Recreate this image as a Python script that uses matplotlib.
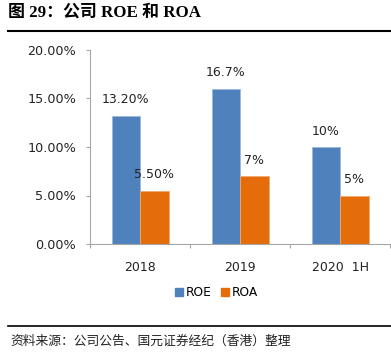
import numpy as np
import matplotlib.pyplot as plt
from matplotlib.lines import Line2D

plt.rcParams['font.family'] = ['DejaVu Sans', 'Noto Sans CJK SC']

categories = ['2018', '2019', '2020  1H']
roe = [13.2, 16.0, 10.0]
roa = [5.5, 7.0, 5.0]
roe_labels = ['13.20%', '16.7%', '10%']
roa_labels = ['5.50%', '7%', '5%']
yticks = [0, 5, 10, 15, 20]
ytick_labels = ['0.00%', '5.00%', '10.00%', '15.00%', '20.00%']

c_roe = '#4F81BD'
c_roa = '#E46C0A'

fig = plt.figure(figsize=(3.91, 3.55), dpi=100)
ax = fig.add_axes([90/391, 1-244/355, 300/391, 194/355])

x = np.arange(len(categories))
w = 0.285
ax.bar(x - w/2, roe, w, color=c_roe, edgecolor='#9DB7DA', linewidth=0.6, label='ROE')
ax.bar(x + w/2, roa, w, color=c_roa, edgecolor='#F2A870', linewidth=0.6, label='ROA')

for xi, v, s in zip(x, roe, roe_labels):
    ax.annotate(s, (xi - w/2, v), xytext=(0, 11.5), textcoords='offset points',
                ha='center', va='center', fontsize=9, color='#222222')
for xi, v, s in zip(x, roa, roa_labels):
    ax.annotate(s, (xi + w/2, v), xytext=(0, 11.5), textcoords='offset points',
                ha='center', va='center', fontsize=9, color='#222222')

ax.set_xlim(-0.5, 2.5)
ax.set_ylim(0, 20)
ax.set_yticks(yticks)
ax.set_yticklabels(ytick_labels, fontsize=9.2, color='#222222')
ax.set_xticks(x)
ax.set_xticklabels(categories, fontsize=9, color='#222222')
ax.tick_params(axis='x', length=0, pad=12)
ax.set_xticks([-0.5, 0.5, 1.5, 2.5], minor=True)
ax.tick_params(axis='x', which='minor', length=3, color='#A6A6A6', width=0.8)
ax.tick_params(axis='y', length=3, color='#A6A6A6', width=0.8, pad=7)

for side in ['top', 'right']:
    ax.spines[side].set_visible(False)
for side in ['left', 'bottom']:
    ax.spines[side].set_color('#A6A6A6')
    ax.spines[side].set_linewidth(0.8)

handles = [Line2D([], [], marker='s', linestyle='', markersize=6, color=c_roe),
           Line2D([], [], marker='s', linestyle='', markersize=6, color=c_roa)]
fig.legend(handles, ['ROE', 'ROA'], loc='center', bbox_to_anchor=(215/391, 1-293/355),
           ncol=2, frameon=False, fontsize=8.8, handletextpad=0.05, columnspacing=0.6,
           handlelength=1.0)

# title and source
fig.text(8/391, 1-12/355, '图 29：公司 ROE 和 ROA', fontsize=12.2, fontweight='bold',
         family=['Liberation Serif', 'Noto Sans CJK SC'], va='center', ha='left')
fig.add_artist(Line2D([8/391, 1], [1-31/355, 1-31/355], color='black', linewidth=1.5))
fig.add_artist(Line2D([8/391, 1], [1-326/355, 1-326/355], color='black', linewidth=1.2))
fig.text(10/391, 1-341/355, '资料来源：公司公告、国元证券经纪（香港）整理', fontsize=9.2,
         style='italic', family=['Noto Sans CJK SC'], va='center', ha='left', color='#222222')

fig.savefig('out.png', dpi=100)
